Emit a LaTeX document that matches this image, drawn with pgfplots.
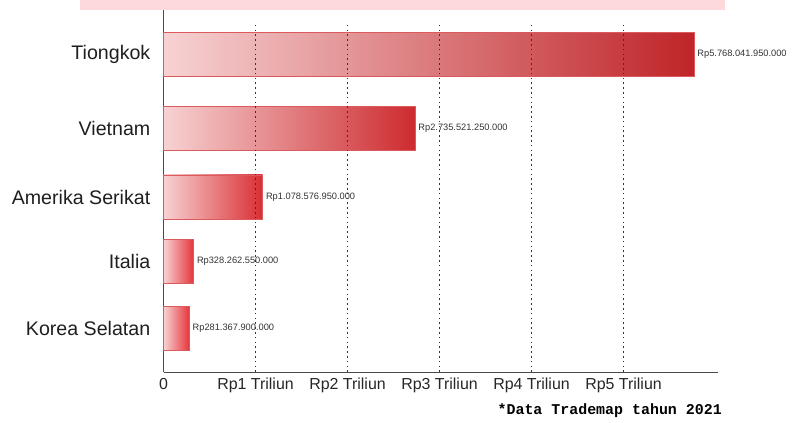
\documentclass[border=0pt]{standalone}
\usepackage{pgfplots}
\pgfplotsset{compat=1.18}
\usepackage{fontspec}
\setmainfont{Liberation Sans}
\newfontfamily\monobold[BoldFont={Liberation Mono Bold}]{Liberation Mono}

\definecolor{bandpink}{HTML}{FDD9DC}
\definecolor{barlight}{HTML}{F7D2D3}
\definecolor{redA}{HTML}{BF2428}
\definecolor{redB}{HTML}{CD2B2F}
\definecolor{redC}{HTML}{D92E33}
\definecolor{redD}{HTML}{E5353A}
\definecolor{barline}{HTML}{DA5A5E}
\definecolor{axisgray}{HTML}{4A4A4A}
\definecolor{gridc}{HTML}{333333}
\definecolor{valtext}{HTML}{333333}

\begin{document}
\begin{tikzpicture}[x=1bp,y=1bp]
\path[use as bounding box, clip] (0,0) rectangle (798,422);
% header band
\fill[bandpink] (80,412) rectangle (725,422);

\begin{axis}[
  at={(163.5bp,50bp)}, anchor=south west,
  scale only axis, width=554.5bp, height=362bp,
  xmin=0, xmax=6.0272, ymin=0, ymax=362,
  axis lines*=left,
  axis line style={draw=axisgray, line width=1bp},
  clip=false,
  xbar, bar shift=0pt, bar width=44,
  major tick length=0pt,
  xtick={0,1,2,3,4,5},
  xticklabels={0, Rp1 Triliun, Rp2 Triliun, Rp3 Triliun, Rp4 Triliun, Rp5 Triliun},
  ytick={44,111,175,243.5,317.5},
  yticklabels={Korea Selatan, Italia, Amerika Serikat, Vietnam, Tiongkok},
  /pgf/number format/assume math mode=true,
  xticklabel style={font=\fontsize{16}{18}\selectfont, text=black!85, anchor=north, inner sep=0pt, yshift=-6bp},
  yticklabel style={font=\fontsize{19.7}{21}\selectfont, text=black!88, anchor=east, inner sep=0pt, xshift=-13bp},
  nodes near coords align=horizontal,
  every node near coord/.append style={font=\fontsize{9.3}{11}\selectfont, text=valtext, anchor=west, inner sep=0pt, xshift=3bp},
]
\addplot[draw=barline, line width=0.6bp, left color=barlight, right color=redA,
  nodes near coords={Rp5.768.041.950.000}] coordinates {(5.768041950,317.5)};
\addplot[draw=barline, line width=0.6bp, left color=barlight, right color=redB,
  nodes near coords={Rp2.735.521.250.000}] coordinates {(2.735521250,243.5)};
\addplot[draw=barline, line width=0.6bp, left color=barlight, right color=redC,
  nodes near coords={Rp1.078.576.950.000}] coordinates {(1.078576950,175)};
\addplot[draw=barline, line width=0.6bp, left color=barlight, right color=redD,
  nodes near coords={Rp328.262.550.000}] coordinates {(0.328262550,111)};
\addplot[draw=barline, line width=0.6bp, left color=barlight, right color=redD,
  nodes near coords={Rp281.367.900.000}] coordinates {(0.281367900,44)};
% dotted grid lines over the bars
\pgfplotsinvokeforeach{1,2,3,4,5}{
  \draw[gridc, line width=1.8bp, dash pattern=on 1.6bp off 3.2bp] (axis cs:#1,0) -- (axis cs:#1,350);
}
\end{axis}

\node[anchor=base east, inner sep=0pt, font=\monobold\bfseries\fontsize{15}{16}\selectfont] at (722,8) {*Data Trademap tahun 2021};
\end{tikzpicture}
\end{document}
